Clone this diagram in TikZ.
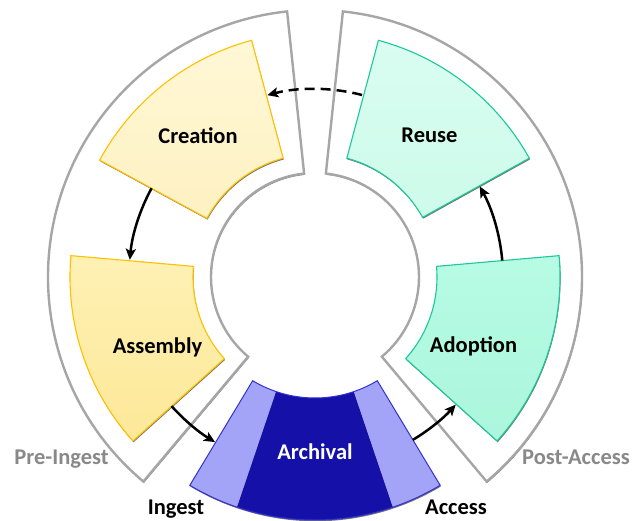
\documentclass[tikz,border=0pt]{standalone}
\usepackage{fontspec}
\setmainfont{Carlito}
\usetikzlibrary{arrows.meta}

\definecolor{ringline}{HTML}{A6A6A6}
\definecolor{phaselabel}{HTML}{898989}
\definecolor{yellowline}{HTML}{FFC000}
\definecolor{creationtop}{HTML}{FFF8D6}
\definecolor{creationbot}{HTML}{FEF1C2}
\definecolor{assemblytop}{HTML}{FEF1B4}
\definecolor{assemblybot}{HTML}{FDE898}
\definecolor{tealline}{HTML}{1CC89A}
\definecolor{reusetop}{HTML}{D9FDF1}
\definecolor{reusebot}{HTML}{CDFBEA}
\definecolor{adoptiontop}{HTML}{B7FBE4}
\definecolor{adoptionbot}{HTML}{ABF6DC}
\definecolor{archdark}{HTML}{1410A8}
\definecolor{archlight}{HTML}{A3A3F8}
\definecolor{archline}{HTML}{3232D2}

% annular sector: start angle, end angle, inner radius, outer radius (pt)
\newcommand{\ringsector}[4]{(#1:#3pt) arc[start angle=#1,end angle=#2,radius=#3pt]
  -- (#2:#4pt) arc[start angle=#2,end angle=#1,radius=#4pt] -- cycle}

\tikzset{
  dropshadow/.style={fill=black, fill opacity=0.55, shift={(0.6pt,-1.3pt)}},
  phasering/.style={draw=ringline, line width=2.4pt, fill=white, line join=miter},
  stagebox/.style={line width=1.1pt, line join=miter},
  stagetext/.style={font=\fontsize{22.5}{27}\selectfont\bfseries, anchor=base, inner sep=0pt},
  phasetext/.style={stagetext, text=phaselabel},
  flow/.style={line width=2.5pt, -{Stealth[length=11pt,width=10pt,inset=2.5pt]}},
}

\begin{document}
\begin{tikzpicture}
\useasboundingbox[fill=white] (-315pt,-243pt) rectangle (325pt,277pt);

% outer phase rings
\fill[dropshadow] \ringsector{96}{230}{104}{267};
\fill[dropshadow] \ringsector{-50}{84}{104}{267};
\path[phasering] \ringsector{96}{230}{104}{267};
\path[phasering] \ringsector{-50}{84}{104}{267};

% stage sectors
\fill[dropshadow] \ringsector{105}{151.5}{123}{245};
\fill[dropshadow] \ringsector{175}{222}{122}{245};
\fill[dropshadow] \ringsector{29}{75}{123}{245};
\fill[dropshadow] \ringsector{-42}{5}{122}{245};
\path[stagebox, draw=yellowline, top color=creationtop, bottom color=creationbot] \ringsector{105}{151.5}{123}{245};
\path[stagebox, draw=yellowline, top color=assemblytop, bottom color=assemblybot] \ringsector{175}{222}{122}{245};
\path[stagebox, draw=tealline, top color=reusetop, bottom color=reusebot] \ringsector{29}{75}{123}{245};
\path[stagebox, draw=tealline, top color=adoptiontop, bottom color=adoptionbot] \ringsector{-42}{5}{122}{245};

% archival sector with ingest / access bands
\fill[dropshadow] \ringsector{239}{301}{121}{243};
\fill[archlight] \ringsector{239}{251.3}{121}{243};
\fill[archdark] \ringsector{251.3}{288.7}{121}{243};
\fill[archlight] \ringsector{288.7}{301}{121}{243};
\draw[archline, line width=1pt, line join=miter] \ringsector{239}{301}{121}{243};

% labels
\node[stagetext] (creation) at (-117pt,134pt) {Creation};
\node[stagetext] (reuse) at (114.5pt,135pt) {Reuse};
\node[stagetext] (assembly) at (-157.5pt,-76pt) {Assembly};
\node[stagetext] (adoption) at (158.5pt,-75pt) {Adoption};
\node[stagetext, text=white] (archival) at (0pt,-182pt) {Archival};
\node[phasetext] (preingest) at (-253.5pt,-187pt) {Pre-Ingest};
\node[phasetext] (postaccess) at (261pt,-187pt) {Post-Access};
\node[stagetext] (ingest) at (-139pt,-237.5pt) {Ingest};
\node[stagetext] (access) at (141pt,-237.5pt) {Access};

% connector start points on the stage edges
\coordinate (reuse-out) at (75.5:188pt);
\coordinate (creation-out) at (151.5:186pt);
\coordinate (assembly-out) at (222:193pt);
\coordinate (archival-out) at (301:190pt);
\coordinate (adoption-out) at (5:188pt);

\draw[flow, dashed, dash pattern=on 10pt off 6pt] (reuse-out) arc[start angle=75.5, end angle=104.7, radius=188pt];
\draw[flow] (creation-out) arc[start angle=151.5, end angle=174.7, radius=186pt];
\draw[flow] (assembly-out) arc[start angle=222, end angle=238.8, radius=193pt];
\draw[flow] (archival-out) arc[start angle=301, end angle=317.8, radius=190pt];
\draw[flow] (adoption-out) arc[start angle=5, end angle=28.8, radius=188pt];
\end{tikzpicture}
\end{document}
